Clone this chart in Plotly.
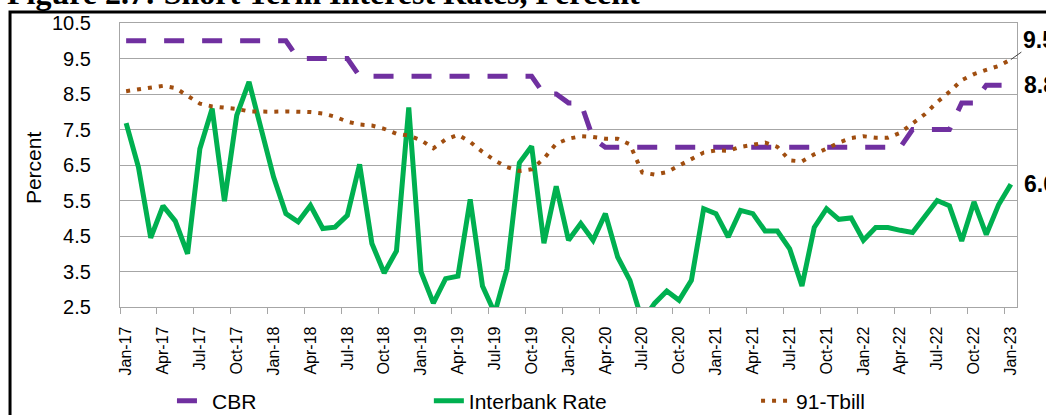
import plotly.graph_objects as go

# ---- data (monthly, Jan-17 .. Jan-23) ----
months = ["Jan-17","Feb-17","Mar-17","Apr-17","May-17","Jun-17","Jul-17","Aug-17","Sep-17","Oct-17","Nov-17","Dec-17",
          "Jan-18","Feb-18","Mar-18","Apr-18","May-18","Jun-18","Jul-18","Aug-18","Sep-18","Oct-18","Nov-18","Dec-18",
          "Jan-19","Feb-19","Mar-19","Apr-19","May-19","Jun-19","Jul-19","Aug-19","Sep-19","Oct-19","Nov-19","Dec-19",
          "Jan-20","Feb-20","Mar-20","Apr-20","May-20","Jun-20","Jul-20","Aug-20","Sep-20","Oct-20","Nov-20","Dec-20",
          "Jan-21","Feb-21","Mar-21","Apr-21","May-21","Jun-21","Jul-21","Aug-21","Sep-21","Oct-21","Nov-21","Dec-21",
          "Jan-22","Feb-22","Mar-22","Apr-22","May-22","Jun-22","Jul-22","Aug-22","Sep-22","Oct-22","Nov-22","Dec-22",
          "Jan-23"]

cbr = [10.0, 10.0, 10.0, 10.0, 10.0, 10.0, 10.0, 10.0, 10.0, 10.0, 10.0, 10.0,
       10.0, 10.0, 9.5, 9.5, 9.5, 9.5, 9.5, 9.0, 9.0, 9.0, 9.0, 9.0,
       9.0, 9.0, 9.0, 9.0, 9.0, 9.0, 9.0, 9.0, 9.0, 9.0, 8.5, 8.5,
       8.25, 8.25, 7.25, 7.0, 7.0, 7.0, 7.0, 7.0, 7.0, 7.0, 7.0, 7.0,
       7.0, 7.0, 7.0, 7.0, 7.0, 7.0, 7.0, 7.0, 7.0, 7.0, 7.0, 7.0,
       7.0, 7.0, 7.0, 7.0, 7.5, 7.5, 7.5, 7.5, 8.25, 8.25, 8.75, 8.75,
       8.75]

interbank = [7.68, 6.44, 4.45, 5.35, 4.92, 4.00, 6.96, 8.09, 5.48, 7.90, 8.84, 7.45,
             6.16, 5.13, 4.90, 5.36, 4.71, 4.75, 5.08, 6.52, 4.29, 3.46, 4.08, 8.12,
             3.49, 2.61, 3.30, 3.37, 5.53, 3.09, 2.33, 3.58, 6.56, 7.03, 4.30, 5.90,
             4.38, 4.85, 4.38, 5.13, 3.91, 3.25, 2.10, 2.60, 2.95, 2.69, 3.25, 5.27,
             5.13, 4.47, 5.22, 5.13, 4.64, 4.64, 4.14, 3.09, 4.74, 5.27, 4.97, 5.01,
             4.38, 4.74, 4.74, 4.66, 4.60, 5.05, 5.50, 5.35, 4.36, 5.46, 4.54, 5.38,
             5.96]

tbill = [8.58, 8.63, 8.69, 8.73, 8.67, 8.44, 8.23, 8.15, 8.12, 8.08, 8.01, 8.00,
         8.00, 8.01, 8.00, 7.99, 7.95, 7.86, 7.72, 7.64, 7.61, 7.52, 7.38, 7.33,
         7.20, 6.97, 7.22, 7.35, 7.15, 6.87, 6.63, 6.44, 6.33, 6.38, 6.68, 7.10,
         7.24, 7.31, 7.29, 7.24, 7.24, 7.08, 6.29, 6.23, 6.30, 6.49, 6.65, 6.85,
         6.91, 6.90, 7.01, 7.08, 7.13, 7.01, 6.63, 6.60, 6.80, 6.96, 7.13, 7.26,
         7.31, 7.27, 7.27, 7.41, 7.67, 7.93, 8.27, 8.56, 8.89, 9.06, 9.18, 9.29,
         9.47]

y_ticks = [2.5, 3.5, 4.5, 5.5, 6.5, 7.5, 8.5, 9.5, 10.5]

idx = list(range(len(months)))
label_idx = idx[::3]
label_txt = [months[i] for i in label_idx]

SANS = "Liberation Sans, Arial, sans-serif"
GRID = "#A6A6A6"

fig = go.Figure()
fig.add_trace(go.Scatter(x=idx, y=cbr, mode="lines", name="CBR", showlegend=True,
                         line=dict(color="#7030A0", width=5, dash="20px,18px"),
                         legend="legend"))
fig.add_trace(go.Scatter(x=idx, y=interbank, mode="lines", name="Interbank Rate", showlegend=True,
                         line=dict(color="#00B050", width=5),
                         legend="legend2"))
fig.add_trace(go.Scatter(x=idx, y=tbill, mode="lines", name="91-Tbill", showlegend=True,
                         line=dict(color="#A04E10", width=4, dash="4px,7px"),
                         legend="legend3"))

legend_common = dict(orientation="h", xref="container", yref="container",
                     yanchor="middle", y=0.0337, xanchor="left",
                     font=dict(family=SANS, size=21, color="black"),
                     bgcolor="rgba(0,0,0,0)", itemwidth=30)

fig.update_layout(
    width=1046, height=415,
    margin=dict(l=120, r=29, t=23, b=108, autoexpand=False),
    showlegend=True,
    paper_bgcolor="white", plot_bgcolor="white",
    font=dict(family=SANS, color="black"),
    legend=dict(x=0.1644, **legend_common),
    legend2=dict(x=0.410, **legend_common),
    legend3=dict(x=0.7228, **legend_common),
    xaxis=dict(range=[-0.5, len(months) - 0.5], tickmode="array",
               tickvals=label_idx, ticktext=label_txt, tickangle=-90,
               tickfont=dict(family=SANS, size=16, color="black"),
               showgrid=False, zeroline=False, showline=True, linecolor=GRID,
               linewidth=1.3, mirror=True, ticks="", ticklabelstandoff=12,
               automargin=False,
               minor=dict(tickmode="array", tickvals=[i - 0.5 for i in label_idx],
                          ticks="outside", ticklen=6, tickcolor=GRID, tickwidth=1.3,
                          showgrid=False)),
    yaxis=dict(range=[2.5, 10.5], tickmode="array", tickvals=y_ticks,
               ticktext=[f"{v:.1f}" for v in y_ticks],
               tickfont=dict(family=SANS, size=20, color="black"),
               showgrid=True, gridcolor=GRID, gridwidth=1.3, zeroline=False,
               showline=True, linecolor=GRID, linewidth=1.3, mirror=True,
               ticks="", ticklabelstandoff=24, automargin=False),
)

# outer black frame of the figure box
fig.add_shape(type="rect", xref="paper", yref="paper",
              x0=-0.1226, x1=1.3, y0=-0.7, y1=1.0387,
              line=dict(color="black", width=3), layer="below")

# title (partly cut off at the top as in the source)
fig.add_annotation(text="<b>Figure 2.7: Short Term Interest Rates, Percent</b>",
                   xref="paper", yref="paper", x=-0.128, y=1.0335,
                   xanchor="left", yanchor="bottom", showarrow=False,
                   font=dict(family="Liberation Serif, Times New Roman, serif", size=32, color="black"))

# y-axis title
fig.add_annotation(text="Percent", xref="paper", yref="paper", x=-0.097, y=0.4925,
                   textangle=-90, showarrow=False, xanchor="center", yanchor="middle",
                   font=dict(family=SANS, size=21, color="black"))

# end-of-series value labels
lab_font = dict(family=SANS, size=23, color="black")
fig.add_annotation(text=f"<b>{tbill[-1]:.1f}</b>", x=idx[-1], y=tbill[-1], xref="x", yref="y",
                   showarrow=True, arrowhead=0, arrowwidth=1, arrowcolor="#404040",
                   ax=28, ay=-20, font=lab_font)
fig.add_annotation(text=f"<b>{cbr[-1]:.1f}</b>", x=1.0056, y=cbr[-1], xref="paper", yref="y",
                   xanchor="left", yanchor="middle", showarrow=False, font=lab_font)
fig.add_annotation(text=f"<b>{interbank[-1]:.1f}</b>", x=1.0056, y=interbank[-1], xref="paper", yref="y",
                   xanchor="left", yanchor="middle", showarrow=False, font=lab_font)

fig.write_html("out.html",
               config={"displayModeBar": False},
               post_script="document.body.style.margin='0';document.body.style.overflow='hidden';")
